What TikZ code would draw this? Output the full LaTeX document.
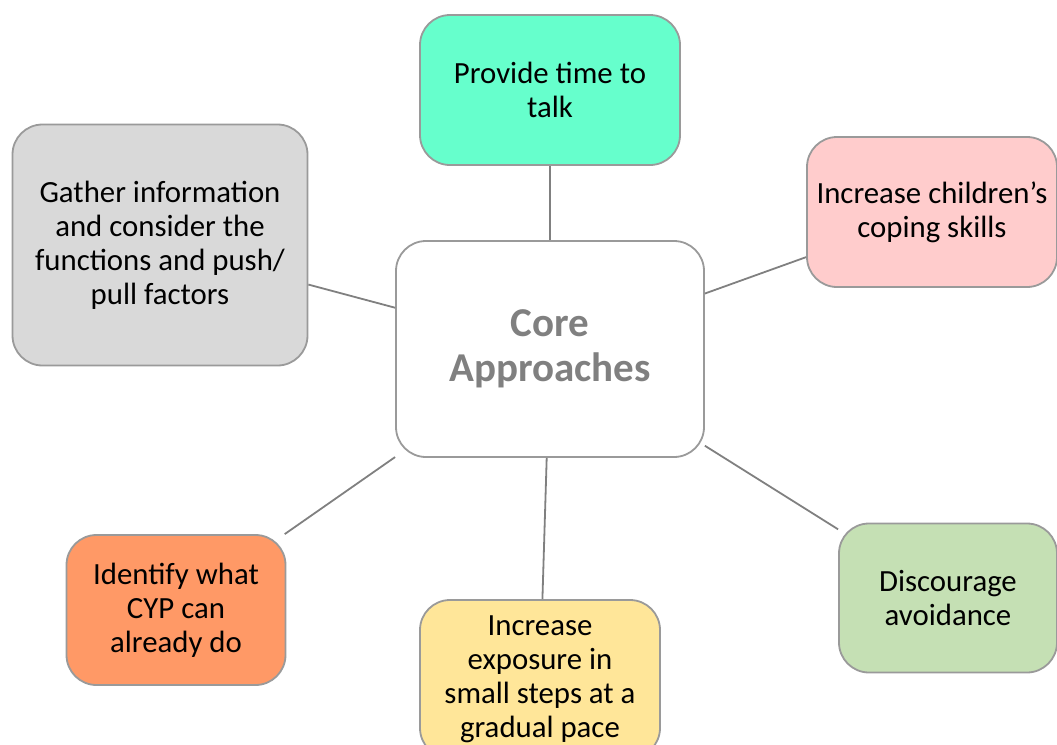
\documentclass[tikz,border=0pt]{standalone}
\usepackage{fontspec}
\setmainfont{Carlito}
\definecolor{talkgreen}{HTML}{66FFCC}
\definecolor{gathergray}{HTML}{D9D9D9}
\definecolor{copingpink}{HTML}{FFCCCC}
\definecolor{cyporange}{HTML}{FF9966}
\definecolor{stepyellow}{HTML}{FFE699}
\definecolor{avoidgreen}{HTML}{C5E0B4}
\definecolor{edgegray}{HTML}{9A9A9A}
\definecolor{linkgray}{HTML}{808080}
\begin{document}
\begin{tikzpicture}[x=0.5pt, y=-0.5pt,
    idea/.style={draw=edgegray, line width=0.9pt, rounded corners=15pt,
      align=center, font=\fontsize{15.4}{17}\selectfont, text=black},
    link/.style={draw=linkgray, line width=0.9pt}]
    \useasboundingbox (0, 0) rectangle (1057, 745);
    \clip (0, 0) rectangle (1057, 745);

    % Centre
    \node [idea, fill=white, minimum width=154pt, minimum height=108pt,
           font=\bfseries\fontsize{20.5}{22.5}\selectfont, text=linkgray]
          (core) at (550, 349) {Core\\Approaches};

    % Ideas around the centre
    \node [idea, fill=talkgreen, minimum width=130pt, minimum height=75pt]
          (talk) at (550, 90) {Provide time to\\talk};
    \node [idea, fill=gathergray, minimum width=147.5pt, minimum height=120.5pt]
          (gather) at (160, 245) {Gather information\\and consider the\\functions and push/\\pull factors};
    \node [idea, fill=copingpink, minimum width=125pt, minimum height=75pt]
          (coping) at (932, 212) {Increase children's\\coping skills};
    \node [idea, fill=cyporange, minimum width=109.5pt, minimum height=75pt]
          (cyp) at (176, 610) {Identify what\\CYP can\\already do};
    \node [idea, fill=stepyellow, minimum width=120pt, minimum height=79pt]
          (exposure) at (540, 679) {Increase\\exposure in\\small steps at a\\gradual pace};
    \node [idea, fill=avoidgreen, minimum width=109pt, minimum height=74.5pt]
          (avoid) at (948, 598) {Discourage\\avoidance};

    % Connections
    \foreach \n in {talk, gather, coping, cyp, exposure, avoid} {
      \draw [link] (core) -- (\n);
    }
\end{tikzpicture}
\end{document}
